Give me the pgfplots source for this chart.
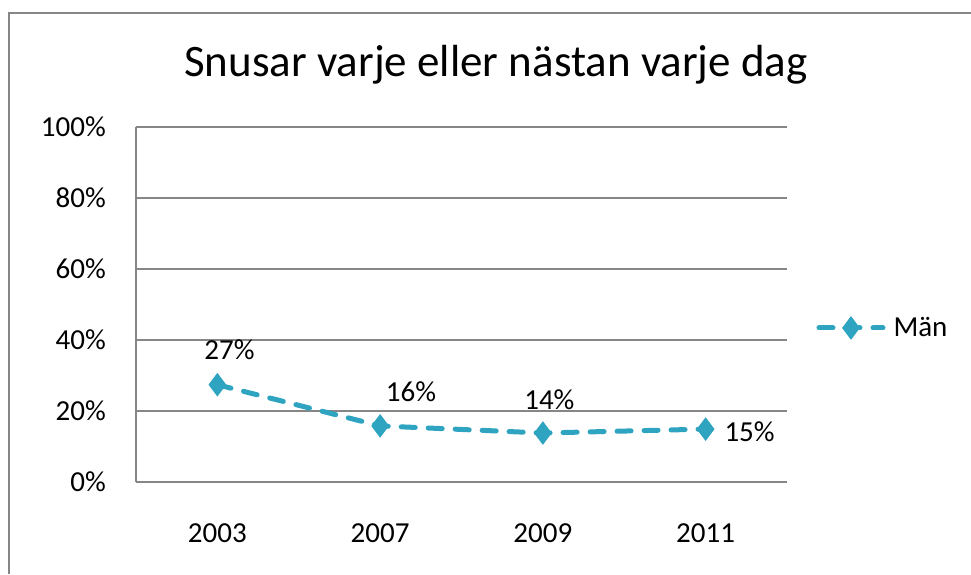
\documentclass[border=0pt]{standalone}
\usepackage{fontspec}
\setmainfont{Carlito}
\usepackage{pgfplots}
\pgfplotsset{compat=1.18}
\definecolor{snblue}{RGB}{46,164,192}
\definecolor{axgray}{RGB}{134,134,134}
\newcommand{\lblfont}{\fontsize{29}{34}\selectfont}
\begin{document}
\begin{tikzpicture}
\path[use as bounding box,fill=white] (0,0) rectangle (971pt,574pt);
% chart frame (right and bottom edges fall outside the crop)
\draw[axgray,line width=1.5pt] (9pt,0pt) -- (9pt,561pt) -- (971pt,561pt);
\node[anchor=base,font=\fontsize{45}{50}\selectfont] at (496pt,497pt)
  {Snusar varje eller nästan varje dag};
\begin{axis}[scale only axis, width=651pt, height=355pt,
  at={(136pt,92pt)}, anchor=south west,
  xmin=-0.5, xmax=3.5, ymin=0, ymax=100,
  axis lines*=left, clip=false,
  xtick={0,1,2,3}, xticklabels={2003,2007,2009,2011},
  ytick={0,20,40,60,80,100},
  yticklabels={0\%,20\%,40\%,60\%,80\%,100\%},
  major tick length=0pt,
  ymajorgrids, grid style={axgray,line width=1.5pt},
  axis line style={axgray,line width=1.5pt},
  tick label style={font=\lblfont,text=black},
  yticklabel style={anchor=east,inner sep=0pt,xshift=-30pt},
  xticklabel style={anchor=north,inner sep=0pt,yshift=-41pt},
  legend style={at={(1.045,0.434)},anchor=west,draw=none,fill=none,
    font=\lblfont,inner sep=0pt},
  legend image code/.code={%
    \draw[mark repeat=2,mark phase=2,#1] plot coordinates
      {(0pt,0pt) (32pt,0pt) (64pt,0pt)};},
  ]
\addplot[snblue, line width=5pt, line cap=round,
  dash pattern=on 14pt off 13pt,
  mark=diamond*, mark size=11pt, mark options={solid,line width=1pt}]
  coordinates {(0,27.4) (1,15.8) (2,13.8) (3,14.9)};
\addlegendentry{\hspace{6pt}Män}
\node[font=\lblfont] at (axis cs:0.074,37.2) {27\%};
\node[font=\lblfont] at (axis cs:1.19,25.4) {16\%};
\node[font=\lblfont] at (axis cs:2.04,23.1) {14\%};
\node[font=\lblfont] at (axis cs:3.27,14.1) {15\%};
\end{axis}
\end{tikzpicture}
\end{document}
